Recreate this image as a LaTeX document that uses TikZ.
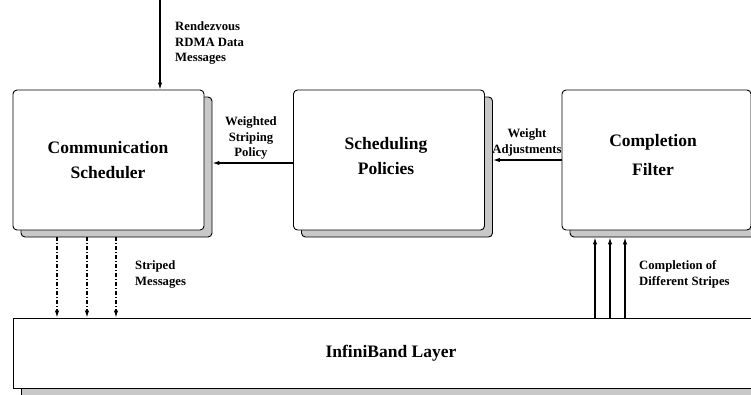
\documentclass[tikz,border=0pt]{standalone}
\usepackage{fontspec}
\setmainfont{Liberation Serif}
\usetikzlibrary{arrows.meta,calc,shadows}
\definecolor{shadowgray}{RGB}{200,200,200}
\begin{document}
\begin{tikzpicture}[x=1bp,y=-1bp,
  boxshadow/.style={general shadow={fill=shadowgray, draw=black, line width=0.9bp,
      shadow xshift=8bp, shadow yshift=-7bp}},
  panel/.style={draw=black, line width=0.9bp, fill=white, rounded corners=4bp,
      minimum width=191bp, minimum height=140bp, inner sep=0pt, boxshadow},
  layer/.style={draw=black, line width=0.9bp, fill=white,
      minimum height=70bp, inner sep=0pt, boxshadow},
  bigtxt/.style={font=\fontsize{17.5bp}{25bp}\selectfont\bfseries, align=center, inner sep=0pt},
  smalltxt/.style={font=\fontsize{12.7bp}{15.5bp}\selectfont\bfseries, inner sep=0pt},
  arr/.style={line width=1.2bp, -{Latex[length=7bp,width=4.5bp]}},
  dashdot/.style={arr, dash pattern=on 4bp off 2bp on 1bp off 2bp}
]
\clip (0,0) rectangle (751,394);

% main processing blocks
\node[panel] (cs) at (108.5,160) {};
\node[bigtxt] (cs-txt) at (108,160.5) {Communication\\Scheduler};
\node[panel] (sp) at (389,160) {};
\node[bigtxt] (sp-txt) at (386,156) {Scheduling\\Policies};
\node[panel, minimum width=189bp] (cf) at (656.5,160) {};
\node[bigtxt, font=\fontsize{17.5bp}{29bp}\selectfont\bfseries] (cf-txt) at (653,155.5) {Completion\\Filter};

% network layer
\node[layer, minimum width=767bp] (ib) at (396.5,353) {};
\node[bigtxt] (ib-txt) at (391,353) {InfiniBand Layer};

% incoming rendezvous messages
\coordinate (src) at (160,0);
\draw[arr] (src) -- (src |- cs.north);
\node[smalltxt, anchor=west, align=left] (rdv) at (175,43) {Rendezvous\\RDMA Data\\Messages};

% policy feedback chain
\draw[arr] ($(sp.west)+(0,3)$) -- ($(cs.east)+(8,3)$);
\node[smalltxt, align=center] (wsp) at (251,138) {Weighted\\Striping\\Policy};
\draw[arr] (cf.west) -- ($(sp.east)+(8,0)$);
\node[smalltxt, align=center] (wadj) at (527,142.5) {Weight\\Adjustments};

% striped messages going down
\foreach \x [count=\i] in {57,87,116} {
  \coordinate (d\i) at (\x,0);
  \draw[dashdot] ($(d\i |- cs.south)+(0,7)$) -- (d\i |- ib.north);
}
\node[smalltxt, anchor=west, align=left] (stm) at (135,274.5) {Striped\\Messages};

% stripe completions going up
\foreach \x [count=\i] in {595,610,625} {
  \coordinate (u\i) at (\x,0);
  \draw[arr] (u\i |- ib.north) -- ($(u\i |- cf.south)+(0,7)$);
}
\node[smalltxt, anchor=west, align=left] (cds) at (639,274.5) {Completion of\\Different Stripes};
\end{tikzpicture}
\end{document}
